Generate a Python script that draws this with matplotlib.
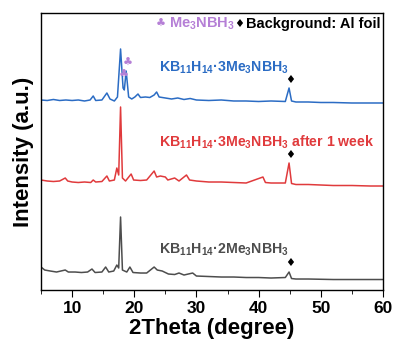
import matplotlib
matplotlib.use("Agg")
import matplotlib.pyplot as plt
from matplotlib.ticker import MultipleLocator

plt.rcParams['font.family'] = ['Liberation Sans', 'DejaVu Sans']
plt.rcParams['font.weight'] = 'bold'
plt.rcParams['axes.labelweight'] = 'bold'
plt.rcParams['mathtext.fontset'] = 'custom'
plt.rcParams['mathtext.rm'] = 'Liberation Sans:bold'
plt.rcParams['mathtext.it'] = 'Liberation Sans:bold'
plt.rcParams['mathtext.bf'] = 'Liberation Sans:bold'

# traces: 2theta (deg) and intensity (a.u., stacked offsets included)
blue_x = [5.0, 6.0, 7.0, 8.0, 9.0, 10.0, 11.0, 12.0, 12.9, 13.4, 13.8, 14.8, 15.6, 16.1,
          16.8, 17.3, 17.8, 18.2, 18.4, 18.7, 19.1, 19.6, 20.1, 20.6, 21.0, 21.8, 22.5,
          23.2, 23.6, 24.0, 25.0, 26.0, 27.0, 28.0, 29.0, 30.0, 32.0, 34.0, 36.0, 38.0,
          40.0, 42.0, 44.3, 44.9, 45.3, 46.0, 48.0, 50.0, 52.0, 55.0, 58.0, 60.0]
blue_y = [190, 189.5, 190.5, 189.5, 190, 189.5, 190, 189, 190, 194, 189.5, 190, 197, 191,
          189, 193, 241, 202, 200, 219, 193, 191, 193, 196, 192.5, 193, 192.5,
          195, 198, 193, 192, 191, 192, 190.5, 191.5, 190, 189.5, 190, 189, 189,
          188.5, 189, 188.5, 202, 189, 188, 188, 187.5, 187.5, 187, 187, 187]

red_x = [5.0, 6.0, 7.0, 8.0, 8.9, 9.3, 10.0, 11.0, 12.0, 13.0, 13.4, 13.8, 14.8, 15.6,
         16.0, 16.8, 17.2, 17.5, 17.8, 18.1, 18.6, 19.5, 19.9, 21.0, 22.0, 23.2, 23.6,
         24.2, 25.0, 25.4, 26.5, 27.2, 28.4, 28.9, 30.0, 32.0, 34.0, 36.0, 38.0, 40.7,
         41.1, 42.0, 44.3, 44.9, 45.3, 46.0, 48.0, 50.0, 52.0, 55.0, 58.0, 60.0]
red_y = [110, 109, 108.5, 109, 112, 109, 108, 107.5, 108, 107.5, 110, 108, 108.5, 114,
         109, 110, 122, 115, 183, 112, 109, 116, 110, 109.5, 110, 119, 113,
         114, 113, 110, 112, 109, 115, 110, 109, 108, 108, 107.5, 107, 113,
         107.5, 107, 107, 127, 106.5, 105.5, 105.5, 105, 104.5, 104.5, 104, 104]

gray_x = [5.0, 5.6, 6.5, 7.5, 8.9, 9.4, 10.5, 11.5, 12.5, 13.2, 13.7, 14.8, 15.4, 15.9,
          16.7, 17.2, 17.5, 17.8, 18.1, 18.8, 19.3, 19.8, 21.0, 22.0, 23.2, 23.7, 24.5,
          25.5, 26.5, 27.2, 28.0, 29.4, 30.0, 32.0, 34.0, 36.0, 38.0, 40.0, 42.0, 44.3,
          44.9, 45.3, 46.0, 48.0, 52.0, 56.0, 60.0]
gray_y = [23, 20, 19, 18, 20, 18, 18, 17.5, 18, 21, 17.5, 18, 23, 18,
          19, 25, 22, 73, 20, 18, 23, 17.5, 17, 17, 23, 20, 19,
          16, 15.5, 17, 15, 17, 14, 13.5, 13, 13, 12.5, 12.5, 12, 12.5,
          18, 11.5, 11, 11, 10.5, 10.5, 10.5]

labels = ['KB$_{11}$H$_{14}$·3Me$_3$NBH$_3$',
          'KB$_{11}$H$_{14}$·3Me$_3$NBH$_3$ after 1 week',
          'KB$_{11}$H$_{14}$·2Me$_3$NBH$_3$']
colors = ['#2b6cc4', '#e03a3c', '#4d4d4d']
purple = '#b57fd6'

fig = plt.figure(figsize=(3.96, 3.49), dpi=100)
ax = fig.add_axes([0.1035, 0.169, 0.8635, 0.7938])

ax.plot(blue_x, blue_y, color=colors[0], lw=1.1)
ax.plot(red_x, red_y, color=colors[1], lw=1.1)
ax.plot(gray_x, gray_y, color=colors[2], lw=1.1)

# sample labels
ax.text(24.0, 222, labels[0], color=colors[0], fontsize=10.2, va='center', ha='left')
ax.text(24.0, 148, labels[1], color=colors[1], fontsize=10.2, va='center', ha='left')
ax.text(24.0, 40, labels[2], color=colors[2], fontsize=10.2, va='center', ha='left')

# peak markers
for y in [210, 135, 27]:
    ax.text(45.0, y, '♦', color='black', fontsize=8, ha='center', va='center',
            family=['DejaVu Sans'])
ax.text(18.9, 227, '♣', color=purple, fontsize=8, ha='center', va='center',
        family=['DejaVu Sans'])
ax.text(18.3, 215, '♣', color=purple, fontsize=8, ha='center', va='center',
        family=['DejaVu Sans'])

# legend line at top
ax.text(23.5, 266, '♣', color=purple, fontsize=8, ha='left', va='center',
        family=['DejaVu Sans'])
ax.text(25.6, 266, 'Me$_3$NBH$_3$', color=purple, fontsize=10.5, ha='left', va='center')
ax.text(36.1, 266, '♦', color='black', fontsize=8, ha='left', va='center',
        family=['DejaVu Sans'])
ax.text(59.6, 266, 'Background: Al foil', color='black', fontsize=10.5, ha='right', va='center')

ax.set_xlim(5, 60)
ax.set_ylim(0, 277)
ax.set_yticks([])
ax.xaxis.set_major_locator(MultipleLocator(10))
ax.xaxis.set_minor_locator(MultipleLocator(5))
ax.tick_params(axis='x', which='major', length=5, labelsize=12.5, pad=3)
ax.tick_params(axis='x', which='minor', length=3)
for lab in ax.get_xticklabels():
    lab.set_fontweight('bold')
for s in ax.spines.values():
    s.set_linewidth(1.0)

ax.set_xlabel('2Theta (degree)', fontsize=16, fontweight='bold', labelpad=1)
ax.set_ylabel('Intensity (a.u.)', fontsize=16, fontweight='bold', labelpad=5)

fig.savefig('out.png', dpi=100)
